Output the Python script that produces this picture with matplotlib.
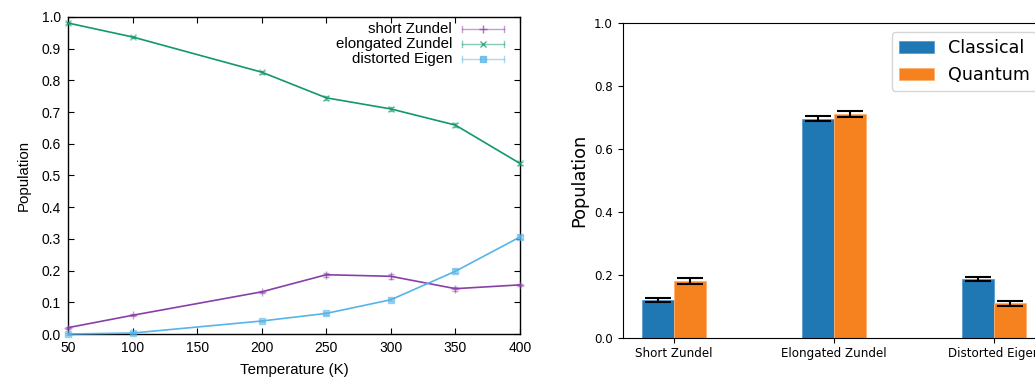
import matplotlib.pyplot as plt
import numpy as np

# left panel: populations vs temperature
temps = [50, 100, 200, 250, 300, 350, 400]
short_zundel = [0.020, 0.059, 0.133, 0.187, 0.182, 0.143, 0.155]
short_zundel_err = [0.003, 0.003, 0.004, 0.007, 0.007, 0.006, 0.004]
elong_zundel = [0.981, 0.937, 0.826, 0.745, 0.710, 0.659, 0.538]
elong_zundel_err = [0.004, 0.004, 0.005, 0.007, 0.007, 0.007, 0.005]
dist_eigen = [0.000, 0.003, 0.041, 0.065, 0.108, 0.198, 0.306]
dist_eigen_err = [0.002, 0.002, 0.003, 0.004, 0.005, 0.006, 0.005]

# right panel: classical vs quantum
categories = ['Short Zundel', 'Elongated Zundel', 'Distorted Eigen']
classical = [0.120, 0.697, 0.186]
classical_err = [0.005, 0.007, 0.007]
quantum = [0.181, 0.711, 0.109]
quantum_err = [0.009, 0.009, 0.007]

fig = plt.figure(figsize=(10.35, 3.8), dpi=100)

# ---- left (gnuplot look) ----
gfont = ['Liberation Sans', 'DejaVu Sans']
ax1 = fig.add_axes([68 / 1035, 1 - 334 / 380, 452 / 1035, 317 / 380])
series = [
    ('short Zundel', short_zundel, short_zundel_err, '#8840a8', '+', 6),
    ('elongated Zundel', elong_zundel, elong_zundel_err, '#12976e', 'x', 4),
    ('distorted Eigen', dist_eigen, dist_eigen_err, '#56b4e9', 's', 4.5),
]
for name, vals, errs, col, mk, ms in series:
    ax1.plot(temps, vals, color=col, lw=1.2, zorder=3, clip_on=False)
    ax1.errorbar(temps, vals, yerr=errs, fmt=mk, color=col, ms=ms, mew=1,
                 alpha=0.5, capsize=2.5, elinewidth=1, capthick=1,
                 zorder=4, clip_on=False)

ax1.set_xlim(50, 400)
ax1.set_ylim(0, 1)
ax1.set_xticks(np.arange(50, 401, 50))
ax1.set_yticks(np.arange(0, 1.01, 0.1))
ax1.set_yticklabels([f'{v:.1f}' for v in np.arange(0, 1.01, 0.1)])
ax1.tick_params(direction='in', length=4.5, width=0.8, top=True, right=True,
                labelsize=10, pad=5)
for lab in ax1.get_xticklabels() + ax1.get_yticklabels():
    lab.set_family(gfont)
for sp in ax1.spines.values():
    sp.set_linewidth(1.0)
ax1.set_xlabel('Temperature (K)', family=gfont, fontsize=10.8, labelpad=6)
ax1.set_ylabel('Population', family=gfont, fontsize=10.8, labelpad=8)

# gnuplot style key, top right
for i, (name, vals, errs, col, mk, ms) in enumerate(series):
    yk = 1 - (12 + 15 * i) / 317
    ax1.text(0.850, yk, name, transform=ax1.transAxes, ha='right', va='center',
             family=gfont, fontsize=10.8)
    ax1.plot([0.872, 0.964], [yk, yk], transform=ax1.transAxes, color=col,
             lw=1, alpha=0.5, clip_on=False)
    for xe in (0.872, 0.964):
        ax1.plot([xe, xe], [yk - 0.009, yk + 0.009], transform=ax1.transAxes,
                 color=col, lw=1, alpha=0.5, clip_on=False)
    ax1.plot([0.918], [yk], transform=ax1.transAxes, marker=mk, color=col,
             ms=ms, mew=1, alpha=0.75, clip_on=False)

# ---- right (matplotlib bars) ----
ax2 = fig.add_axes([622.7 / 1035, 1 - 337.7 / 380, 422.8 / 1035, 314.4 / 380])
x = np.arange(len(categories))
w = 0.2
ax2.bar(x - w / 2, classical, w, yerr=classical_err, color='#1f77b4',
        edgecolor='#5a9bd0', linewidth=0.6,
        label='Classical', capsize=9.5, error_kw=dict(elinewidth=1.5, capthick=1.5))
ax2.bar(x + w / 2, quantum, w, yerr=quantum_err, color='#f5821f',
        edgecolor='#ffb070', linewidth=0.6,
        label='Quantum', capsize=9.5, error_kw=dict(elinewidth=1.5, capthick=1.5))
ax2.set_ylim(0, 1)
ax2.set_xticks(x)
ax2.set_xticklabels(categories)
ax2.tick_params(labelsize=8.6)
ax2.set_ylabel('Population', fontsize=12.8)
ax2.legend(loc='upper right', fontsize=12.6)

fig.savefig('out.png', dpi=100)
